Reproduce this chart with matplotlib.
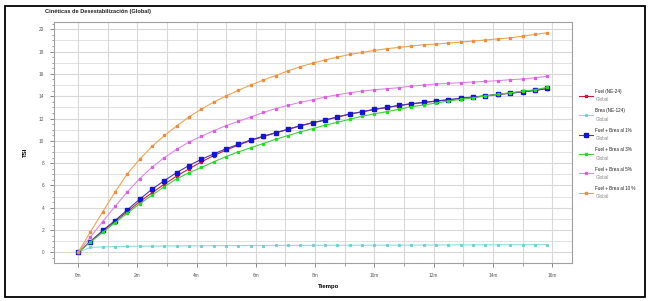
import numpy as np
import matplotlib.pyplot as plt
from matplotlib.patches import Rectangle
from matplotlib.lines import Line2D
from matplotlib.ticker import MultipleLocator

plt.rcParams['font.family'] = ['Liberation Sans', 'DejaVu Sans']

# Datos: tiempo (s) y TSI de cada muestra
tiempo_s = [0, 25, 50, 75, 100, 125, 150, 175, 200, 225, 250, 275, 300, 325,
            350, 375, 400, 425, 450, 475, 500, 525, 550, 575, 600, 625, 650,
            675, 700, 725, 750, 775, 800, 825, 850, 875, 900, 925, 950]

fuel_ne24 = [0, 0.95, 1.90, 2.78, 3.66, 4.55, 5.35, 6.12, 6.85, 7.50, 8.12,
             8.68, 9.18, 9.62, 10.03, 10.38, 10.71, 11.02, 11.34, 11.61, 11.85,
             12.12, 12.39, 12.59, 12.81, 12.98, 13.16, 13.31, 13.43, 13.55,
             13.67, 13.79, 13.91, 14.02, 14.15, 14.26, 14.38, 14.51, 14.68]
brea_ne124 = [0, 0.45, 0.50, 0.53, 0.55, 0.56, 0.57, 0.58, 0.59, 0.60, 0.60,
              0.61, 0.61, 0.62, 0.62, 0.62, 0.63, 0.63, 0.63, 0.64, 0.64, 0.64,
              0.65, 0.65, 0.65, 0.66, 0.66, 0.66, 0.67, 0.67, 0.67, 0.68, 0.68,
              0.68, 0.69, 0.69, 0.69, 0.70, 0.70]
brea_1 = [0, 0.98, 1.97, 2.86, 3.82, 4.77, 5.67, 6.44, 7.16, 7.79, 8.35, 8.83,
          9.30, 9.69, 10.08, 10.41, 10.73, 11.04, 11.36, 11.63, 11.87, 12.14,
          12.41, 12.61, 12.83, 13.00, 13.18, 13.33, 13.45, 13.57, 13.69, 13.81,
          13.93, 14.04, 14.17, 14.28, 14.40, 14.53, 14.70]
brea_3 = [0, 0.93, 1.79, 2.66, 3.52, 4.36, 5.13, 5.90, 6.60, 7.14, 7.62, 8.12,
          8.59, 9.01, 9.39, 9.76, 10.14, 10.47, 10.80, 11.09, 11.40, 11.66,
          11.93, 12.20, 12.43, 12.61, 12.83, 13.06, 13.21, 13.39, 13.57, 13.72,
          13.86, 14.02, 14.17, 14.31, 14.44, 14.58, 14.79]
brea_5 = [0, 1.37, 2.77, 4.12, 5.43, 6.62, 7.64, 8.50, 9.25, 9.90, 10.41, 10.91,
          11.36, 11.75, 12.14, 12.54, 12.88, 13.18, 13.45, 13.68, 13.92, 14.13,
          14.31, 14.46, 14.58, 14.67, 14.76, 14.91, 15.00, 15.09, 15.15, 15.21,
          15.27, 15.33, 15.39, 15.48, 15.54, 15.65, 15.78]
brea_10 = [0, 1.82, 3.64, 5.40, 7.05, 8.35, 9.50, 10.48, 11.34, 12.15, 12.84,
           13.48, 14.02, 14.54, 15.00, 15.44, 15.85, 16.26, 16.64, 16.96, 17.24,
           17.50, 17.74, 17.92, 18.10, 18.25, 18.37, 18.49, 18.61, 18.67, 18.76,
           18.85, 18.94, 19.03, 19.14, 19.23, 19.38, 19.53, 19.68]

nombres = ['Fuel (NE-24)', 'Brea (NE-124)', 'Fuel + Brea al 1%',
           'Fuel + Brea al 3%', 'Fuel + Brea al 5%', 'Fuel + Brea al 10 %']
series = [fuel_ne24, brea_ne124, brea_1, brea_3, brea_5, brea_10]
colores_linea = ['#c8203c', '#8adede', '#4a3aa8', '#44cc44', '#e088e8', '#f0a450']
colores_marca = ['#d0103a', '#6fd0d0', '#1414d8', '#22dd22', '#d860e0', '#e89040']
tam_marca = [2.0, 1.2, 2.2, 1.9, 1.4, 1.5]

x_ticks = [0, 2, 4, 6, 8, 10, 12, 14, 16]
x_labels = ['0m', '2m', '4m', '6m', '8m', '10m', '12m', '14m', '16m']

t = np.array(tiempo_s) / 60.0

fig = plt.figure(figsize=(6.5, 3.01), dpi=100)
ax = fig.add_axes([0.083, 0.126, 0.797, 0.801])

for ys, cl, cm, ms in zip(series, colores_linea, colores_marca, tam_marca):
    ax.plot(t, ys, color=cl, lw=0.8, marker='s', ms=ms, mfc=cm, mec=cm)

ax.set_xlim(-0.81, 16.67)
ax.set_ylim(-0.95, 20.65)
ax.set_xticks(x_ticks)
ax.set_xticklabels(x_labels)
ax.xaxis.set_minor_locator(MultipleLocator(1))
ax.set_yticks(range(0, 21, 2))
ax.yaxis.set_minor_locator(MultipleLocator(0.5))

# rejilla cada 1 minuto y cada 1 unidad de TSI
ax.grid(True, which='major', color='#d8d8d8', lw=0.8)
ax.grid(True, axis='x', which='minor', color='#d8d8d8', lw=0.8)
for v in range(-1, 21, 2):
    ax.axhline(v, color='#e2e2e2', lw=0.7, zorder=0)
ax.set_axisbelow(True)
ax.tick_params(which='major', length=3, width=0.6, color='#777777',
               labelsize=3.4, labelcolor='#555555', pad=4)
ax.tick_params(which='minor', length=2, width=0.5, color='#777777')
ax.tick_params(axis='y', which='minor', length=1.5)
for s in ax.spines.values():
    s.set_color('#a0a0a0')
    s.set_linewidth(0.8)

ax.set_xlabel('Tiempo', fontsize=4.4, fontweight='bold')
ax.xaxis.set_label_coords(0.53, -0.085)
ax.set_ylabel('TSI', fontsize=4.4, fontweight='bold')
ax.yaxis.set_label_coords(-0.05, 0.46)
fig.text(0.069, 0.962, 'Cinéticas de Desestabilización (Global)', fontsize=4.1,
         fontweight='bold', color='#222222', va='center')

# leyenda a la derecha: nombre arriba, "Global" en gris debajo
leg_y = 1 - 95.7 / 301
leg_dy = 19.4 / 301
for i, (nom, cl, cm, ms) in enumerate(zip(nombres, colores_linea, colores_marca, tam_marca)):
    y = leg_y - i * leg_dy
    fig.add_artist(Line2D([0.891, 0.912], [y, y], color=cl, lw=0.8,
                          transform=fig.transFigure))
    fig.add_artist(Line2D([0.9015], [y], marker='s', ms=ms, mfc=cm, mec=cm,
                          transform=fig.transFigure))
    fig.text(0.916, y + 0.014, nom, fontsize=3.3, color='#222222', va='center')
    fig.text(0.916, y - 0.014, 'Global', fontsize=3.3, color='#8a8a8a', va='center')

fig.patches.append(Rectangle((0.008, 0.014), 0.985, 0.967, transform=fig.transFigure,
                             fill=False, edgecolor='black', lw=1.3))

fig.savefig('out.png', dpi=100)
